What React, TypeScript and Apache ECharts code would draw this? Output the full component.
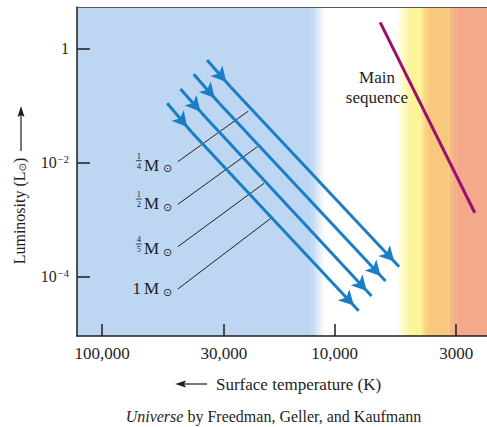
import React, { useEffect, useRef } from "react";
import * as echarts from "echarts";

// ---------- data ----------
const tempTicks = [100000, 30000, 10000, 3000]; // K
const lumTicks = [1, 0.01, 0.0001]; // L_sun
const tempExtent = [2212, 128400]; // coolest (right edge), hottest (left edge)
const lumExtent = [8.97e-6, 5.31]; // bottom, top of plot

const massLabels = ["1/4", "1/2", "4/5", "1"];
const trackStartT = [35410, 40420, 46070, 52530];
const trackStartL = [0.623, 0.35, 0.193, 0.1084];
const trackMidT = [27950, 31360, 36110, 41210];
const trackMidL = [0.207, 0.1084, 0.0631, 0.0336];
const trackEndT = [5284, 6046, 6942, 7891];
const trackEndL = [1.474e-4, 8.27e-5, 4.51e-5, 2.49e-5];

const leaderStartT = [47300, 47300, 47300, 47300];
const leaderStartL = [0.01025, 1.83e-3, 3.31e-4, 5.98e-5];
const leaderEndT = [23500, 21500, 20130, 18840];
const leaderEndL = [0.0794, 0.0188, 4.28e-3, 1.04e-3];

const mainSeqT = [6372, 2497];
const mainSeqL = [2.86, 1.305e-3];

// background colour bands (temperature edges, hot -> cool)
const bandEdgesT = [128400, 12540, 11030, 5427, 4726, 4281, 3996, 3250, 3003, 2212];
const bandFrom = ["#bdd7f3", "#bdd7f3", "#ffffff", "#ffffff", "#fbf594", "#fbf594", "#f8c97c", "#f8c97c", "#f4a98b"];
const bandTo = ["#bdd7f3", "#ffffff", "#ffffff", "#fbf594", "#fbf594", "#f8c97c", "#f8c97c", "#f4a98b", "#f4a98b"];

// ---------- styling ----------
const SERIF = "'Liberation Serif', 'Times New Roman', serif";
const SYM = "'DejaVu Sans', sans-serif";
const INK = "#1e1e1e";
const BLUE = "#1a7dc5";
const MAGENTA = "#9c0f6b";

const LOG = (v: number) => Math.log10(v);

function fmtTemp(v: number) {
  let best = tempTicks[0];
  for (const t of tempTicks) if (Math.abs(LOG(t) - v) < Math.abs(LOG(best) - v)) best = t;
  return best >= 10000 ? best.toLocaleString("en-US") : String(best);
}
function fmtLum(v: number) {
  const e = Math.round(v);
  return e === 0 ? "1" : "10{s|\u2212" + Math.abs(e) + "}";
}

function txt(text: string, x: number, y: number, size: number, align: string = "center", extra: any = {}) {
  return {
    type: "text",
    x,
    y,
    z: 100,
    silent: true,
    style: {
      text,
      fontSize: size,
      fontFamily: SERIF,
      fill: INK,
      textAlign: align,
      textVerticalAlign: "middle",
      ...extra,
    },
  };
}

function massLabelGraphics() {
  const rows = [165, 203.3, 248.3, 288.7];
  const out: any[] = [];
  massLabels.forEach((m, i) => {
    const c = rows[i];
    if (m.includes("/")) {
      const [n, d] = m.split("/");
      out.push(txt(n, 138.8, c - 9.2, 8.5));
      out.push(txt(d, 138.8, c + 0.8, 8.5));
      out.push({
        type: "line",
        z: 100,
        silent: true,
        shape: { x1: 135.8, y1: c - 4.3, x2: 141.8, y2: c - 4.3 },
        style: { stroke: INK, lineWidth: 0.8 },
      });
    } else {
      out.push(txt(m, 132.5, c, 17, "left"));
    }
    out.push(txt("M", 144, c, 17, "left"));
    out.push(txt("\u2299", 167.5, c + 3.8, 11, "center", { fontFamily: SYM }));
  });
  return out;
}

export default function App() {
  const ref = useRef<HTMLDivElement>(null);

  useEffect(() => {
    if (!ref.current) return;
    const chart = echarts.init(ref.current, null, { renderer: "svg" });

    const bands = bandFrom.map((c0, i) => [
      {
        xAxis: LOG(bandEdgesT[i]),
        itemStyle: {
          color: {
            type: "linear",
            x: 0,
            y: 0,
            x2: 1,
            y2: 0,
            colorStops: [
              { offset: 0, color: c0 },
              { offset: 1, color: bandTo[i] },
            ],
          },
          opacity: 1,
          borderWidth: 0,
        },
      },
      { xAxis: LOG(bandEdgesT[i + 1]) },
    ]);

    const trackSegs: any[] = [];
    for (let i = 0; i < trackStartT.length; i++) {
      trackSegs.push([
        { coord: [LOG(trackStartT[i]), LOG(trackStartL[i])] },
        { coord: [LOG(trackMidT[i]), LOG(trackMidL[i])] },
      ]);
      trackSegs.push([
        { coord: [LOG(trackMidT[i]), LOG(trackMidL[i])] },
        { coord: [LOG(trackEndT[i]), LOG(trackEndL[i])] },
      ]);
    }
    const leaders = leaderStartT.map((t, i) => [
      { coord: [LOG(t), LOG(leaderStartL[i])] },
      { coord: [LOG(leaderEndT[i]), LOG(leaderEndL[i])] },
    ]);

    const xMin = LOG(tempExtent[0]);
    const xMax = LOG(tempExtent[1]);

    chart.setOption({
      animation: false,
      backgroundColor: "#ffffff",
      grid: { left: 77, right: -2, top: 7, bottom: 91, show: false },
      xAxis: [
        {
          type: "value",
          inverse: true,
          min: xMin,
          max: xMax,
          position: "bottom",
          z: 10,
          axisLine: { show: true, onZero: false, lineStyle: { color: INK, width: 1.5 } },
          axisTick: {
            show: true,
            inside: true,
            length: 12,
            lineStyle: { color: INK, width: 1.5 },
            customValues: tempTicks.map(LOG),
          },
          axisLabel: {
            show: true,
            customValues: tempTicks.map(LOG),
            formatter: fmtTemp,
            margin: 9,
            color: INK,
            fontSize: 17,
            fontFamily: SERIF,
          },
          splitLine: { show: false },
        },
        {
          type: "value",
          inverse: true,
          min: xMin,
          max: xMax,
          position: "top",
          z: 10,
          axisLine: { show: true, onZero: false, lineStyle: { color: "#555555", width: 1 } },
          axisTick: { show: false },
          axisLabel: { show: false },
          splitLine: { show: false },
        },
      ],
      yAxis: {
        type: "value",
        min: LOG(lumExtent[0]),
        max: LOG(lumExtent[1]),
        z: 10,
        axisLine: { show: true, onZero: false, lineStyle: { color: INK, width: 1.5 } },
        axisTick: {
          show: true,
          inside: true,
          length: 13,
          lineStyle: { color: INK, width: 1.5 },
          customValues: lumTicks.map(LOG),
        },
        axisLabel: {
          show: true,
          customValues: lumTicks.map(LOG),
          formatter: fmtLum,
          margin: 8,
          color: INK,
          fontSize: 16,
          fontFamily: SERIF,
          rich: {
            s: { fontSize: 10.5, fontFamily: SERIF, color: INK, verticalAlign: "top", padding: [0, 0, 0, 1] },
          },
        },
        splitLine: { show: false },
      },
      series: [
        {
          type: "line",
          name: "bands",
          xAxisIndex: 0,
          z: 1,
          data: [],
          silent: true,
          markArea: { silent: true, label: { show: false }, data: bands },
        },
        {
          type: "line",
          name: "leaders",
          xAxisIndex: 0,
          z: 3,
          data: [],
          silent: true,
          markLine: {
            silent: true,
            symbol: ["none", "none"],
            label: { show: false },
            lineStyle: { type: "solid", color: INK, width: 1 },
            data: leaders,
          },
        },
        {
          type: "line",
          name: "tracks",
          xAxisIndex: 0,
          z: 4,
          data: [],
          silent: true,
          markLine: {
            silent: true,
            symbol: ["none", "arrow"],
            symbolSize: [12, 15],
            symbolOffset: [0, [0, 7]],
            label: { show: false },
            lineStyle: { type: "solid", color: BLUE, width: 3, opacity: 1 },
            itemStyle: { color: BLUE },
            data: trackSegs,
          },
        },
        {
          type: "line",
          name: "main sequence",
          xAxisIndex: 0,
          z: 4,
          data: [],
          silent: true,
          markLine: {
            silent: true,
            symbol: ["none", "none"],
            label: { show: false },
            lineStyle: { type: "solid", color: MAGENTA, width: 3, opacity: 1 },
            data: [
              [
                { coord: [LOG(mainSeqT[0]), LOG(mainSeqL[0])] },
                { coord: [LOG(mainSeqT[1]), LOG(mainSeqL[1])] },
              ],
            ],
          },
        },
      ],
      graphic: [
        // y-axis title
        {
          type: "text",
          x: 19,
          y: 211,
          rotation: Math.PI / 2,
          z: 100,
          silent: true,
          style: {
            text: "Luminosity (L{s|\u2299})",
            fontSize: 16,
            fontFamily: SERIF,
            fill: INK,
            textAlign: "center",
            textVerticalAlign: "middle",
            rich: { s: { fontSize: 10, fontFamily: SYM, fill: INK, verticalAlign: "bottom" } },
          },
        },
        { type: "line", z: 100, silent: true, shape: { x1: 21, y1: 151, x2: 21, y2: 114 }, style: { stroke: INK, lineWidth: 1.2 } },
        { type: "polygon", z: 100, silent: true, shape: { points: [[21, 106], [17.5, 117], [21, 115], [24.5, 117]] }, style: { fill: INK } },
        // x-axis title
        { type: "line", z: 100, silent: true, shape: { x1: 207, y1: 384, x2: 182, y2: 384 }, style: { stroke: INK, lineWidth: 1.2 } },
        { type: "polygon", z: 100, silent: true, shape: { points: [[175, 384], [186, 380.5], [184, 384], [186, 387.5]] }, style: { fill: INK } },
        txt("Surface temperature (K)", 216, 384, 17, "left"),
        // main sequence label
        txt("Main", 377, 77, 17),
        txt("sequence", 377, 97, 17),
        // credit
        {
          type: "text",
          x: 273.5,
          y: 416,
          z: 100,
          silent: true,
          style: {
            text: "{i|Universe} by Freedman, Geller, and Kaufmann",
            fontSize: 16,
            fontFamily: SERIF,
            fill: INK,
            textAlign: "center",
            textVerticalAlign: "middle",
            rich: { i: { fontSize: 16, fontFamily: SERIF, fontStyle: "italic", fill: INK } },
          },
        },
        ...massLabelGraphics(),
      ],
    });

    return () => chart.dispose();
  }, []);

  return (
    <div
      ref={ref}
      style={{ position: "fixed", left: 0, top: 0, width: 487, height: 427, background: "#fff" }}
    />
  );
}
